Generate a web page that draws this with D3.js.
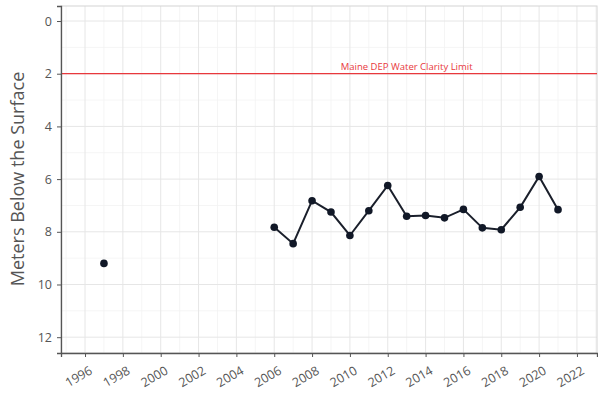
<!DOCTYPE html>
<html><head><meta charset="utf-8">
<script src="https://cdn.jsdelivr.net/npm/d3@7"></script>
<style>body{margin:0;background:#fff}svg{display:block}</style>
</head><body><svg id="c" width="598" height="395"></svg>
<script>
const years = [1997,2006,2007,2008,2009,2010,2011,2012,2013,2014,2015,2016,2017,2018,2019,2020,2021];
const depths = [9.2,7.83,8.45,6.82,7.25,8.14,7.2,6.24,7.41,7.38,7.47,7.15,7.85,7.92,7.07,5.9,7.16];
const xTicks = [1996,1998,2000,2002,2004,2006,2008,2010,2012,2014,2016,2018,2020,2022];
const yTicks = [0,2,4,6,8,10,12];
const limitValue = 2;
const limitLabel = "Maine DEP Water Clarity Limit";
const yTitle = "Meters Below the Surface";

const svg = d3.select("#c");
const L=61, R=597, T=6, B=353;
const x = d3.scaleLinear().domain([1994.73, 2023.06]).range([L, R]);
const y = d3.scaleLinear().domain([-0.57, 12.6]).range([T, B]);
const font = "'Open Sans', Lato, sans-serif";

const g = svg.append("g");
const minorX = d3.range(1995, 2024, 2);
const minorY = d3.range(1, 13, 2);
g.selectAll(".mx").data(minorX).join("line").attr("x1",d=>x(d)).attr("x2",d=>x(d)).attr("y1",T).attr("y2",B).attr("stroke","#f2f2f2").attr("stroke-width",0.8);
g.selectAll(".my").data(minorY).join("line").attr("y1",d=>y(d)).attr("y2",d=>y(d)).attr("x1",L).attr("x2",R).attr("stroke","#f2f2f2").attr("stroke-width",0.8);
g.selectAll(".gx").data(xTicks).join("line").attr("x1",d=>x(d)).attr("x2",d=>x(d)).attr("y1",T).attr("y2",B).attr("stroke","#e6e6e6").attr("stroke-width",1);
g.selectAll(".gy").data(yTicks).join("line").attr("y1",d=>y(d)).attr("y2",d=>y(d)).attr("x1",L).attr("x2",R).attr("stroke","#e6e6e6").attr("stroke-width",1);
g.append("rect").attr("x",L).attr("y",T).attr("width",R-L).attr("height",B-T).attr("fill","none").attr("stroke","#d4d4d4").attr("stroke-width",1);

g.append("line").attr("x1",L).attr("x2",R).attr("y1",y(limitValue)).attr("y2",y(limitValue)).attr("stroke","#e8383d").attr("stroke-width",1.3);
g.append("text").attr("x",x(2013)).attr("y",y(limitValue)-4).attr("text-anchor","middle").attr("fill","#e8383d").attr("font-family",font).attr("font-size",9.5).text(limitLabel);

const xAxis = svg.append("g").attr("transform",`translate(0,${B})`).call(d3.axisBottom(x).tickValues(xTicks).tickFormat(d3.format("d")).tickSize(4).tickPadding(3));
xAxis.select(".domain").attr("stroke","#555").attr("stroke-width",1.3);
xAxis.selectAll(".tick line").attr("stroke","#555");
xAxis.selectAll("text").attr("font-family",font).attr("font-size",12.5).attr("fill","#555")
  .attr("text-anchor","end").attr("x",0).attr("y",0).attr("dx",0).attr("dy","0.75em").attr("transform","translate(3,12) rotate(-30)");
const yAxis = svg.append("g").attr("transform",`translate(${L},0)`).call(d3.axisLeft(y).tickValues(yTicks).tickSize(4).tickPadding(5));
yAxis.select(".domain").attr("stroke","#555").attr("stroke-width",1.3);
yAxis.selectAll(".tick line").attr("stroke","#555");
yAxis.selectAll("text").attr("font-family",font).attr("font-size",12.5).attr("fill","#555");

svg.append("text").attr("transform",`translate(24,${179}) rotate(-90)`).attr("text-anchor","middle").attr("font-family",font).attr("font-size",18).attr("fill","#555").text(yTitle);

const pts = years.map((yr,i)=>({yr, v:depths[i]}));
const line = d3.line().x(d=>x(d.yr)).y(d=>y(d.v)).defined(d=>d.yr>=2006);
svg.append("path").datum(pts).attr("d",line).attr("fill","none").attr("stroke","#1a1f2b").attr("stroke-width",2);
svg.selectAll(".pt").data(pts).join("circle").attr("cx",d=>x(d.yr)).attr("cy",d=>y(d.v)).attr("r",3.8).attr("fill","#111827");
</script></body></html>
